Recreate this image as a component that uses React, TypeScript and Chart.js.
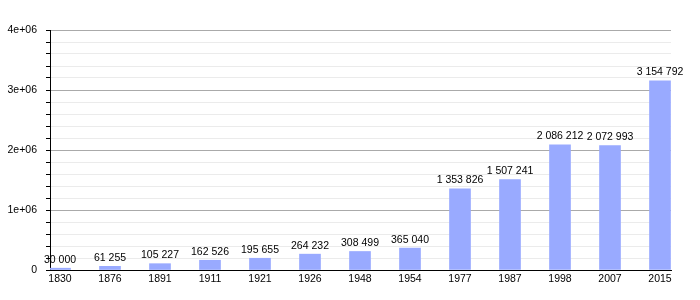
import React, { useEffect, useRef } from "react";
import { Chart, registerables } from "chart.js";

Chart.register(...registerables);

const years = ["1830", "1876", "1891", "1911", "1921", "1926", "1948", "1954", "1977", "1987", "1998", "2007", "2015"];
const population = [30000, 61255, 105227, 162526, 195655, 264232, 308499, 365040, 1353826, 1507241, 2086212, 2072993, 3154792];
const valueLabels = ["30 000", "61 255", "105 227", "162 526", "195 655", "264 232", "308 499", "365 040", "1 353 826", "1 507 241", "2 086 212", "2 072 993", "3 154 792"];
const yMajorLabels: Record<number, string> = { 0: "0", 1000000: "1e+06", 2000000: "2e+06", 3000000: "3e+06", 4000000: "4e+06" };

const FONT = "'Liberation Sans', Arial, sans-serif";

const valueLabelPlugin = {
  id: "valueLabels",
  afterDatasetsDraw(chart: any) {
    const ctx = chart.ctx;
    const meta = chart.getDatasetMeta(0);
    ctx.save();
    ctx.font = `10.5px ${FONT}`;
    ctx.fillStyle = "#000";
    ctx.textAlign = "center";
    ctx.textBaseline = "bottom";
    meta.data.forEach((bar: any, i: number) => {
      ctx.fillText(valueLabels[i], bar.x, bar.y - 3);
    });
    ctx.restore();
  },
};

export default function App() {
  const ref = useRef<HTMLCanvasElement>(null);
  useEffect(() => {
    const chart = new Chart(ref.current!, {
      type: "bar",
      data: {
        datasets: [
          {
            data: population.map((v, i) => ({ x: i, y: v })),
            backgroundColor: "#99aaff",
            barThickness: 21,
            borderWidth: 0,
          },
        ],
      },
      options: {
        animation: false,
        responsive: false,
        events: [],
        layout: { padding: { top: 30, right: 29, left: 0, bottom: 0 } },
        plugins: { legend: { display: false }, tooltip: { enabled: false } },
        scales: {
          x: {
            type: "linear",
            offset: false,
            min: -0.2,
            max: 12.22,
            afterBuildTicks: (axis: any) => {
              axis.ticks = years.map((_, i) => ({ value: i }));
            },
            afterFit: (axis: any) => {
              axis.height = 30;
            },
            grid: { display: false, drawTicks: false, offset: false },
            border: { display: true, color: "#000", width: 1 },
            ticks: {
              color: "#000",
              font: { family: FONT, size: 10.5 },
              padding: 3,
              autoSkip: false,
              maxRotation: 0,
              callback: (v: any) => years[Math.round(Number(v))] ?? "",
            },
          },
          y: {
            min: 0,
            max: 4000000,
            afterBuildTicks: (axis: any) => {
              const t = [];
              for (let v = 0; v <= 4000000; v += 200000) t.push({ value: v });
              axis.ticks = t;
            },
            afterFit: (axis: any) => {
              axis.width = 50;
            },
            border: { display: true, color: "#000", width: 1 },
            grid: {
              color: (c: any) => {
                const v = c.tick ? c.tick.value : 0;
                return v % 1000000 === 0 ? "#aaaaaa" : "#ebebeb";
              },
              tickColor: "#000",
              tickLength: 4,
            },
            ticks: {
              color: "#000",
              font: { family: FONT, size: 10.5 },
              padding: 9,
              autoSkip: false,
              callback: (v: any) => yMajorLabels[Number(v)] ?? "",
            },
          },
        },
      },
      plugins: [valueLabelPlugin],
    } as any);
    return () => chart.destroy();
  }, []);
  return (
    <div style={{ position: "fixed", left: 0, top: 0, width: 700, height: 300, background: "#fff" }}>
      <canvas ref={ref} width={700} height={300} style={{ display: "block" }} />
    </div>
  );
}
